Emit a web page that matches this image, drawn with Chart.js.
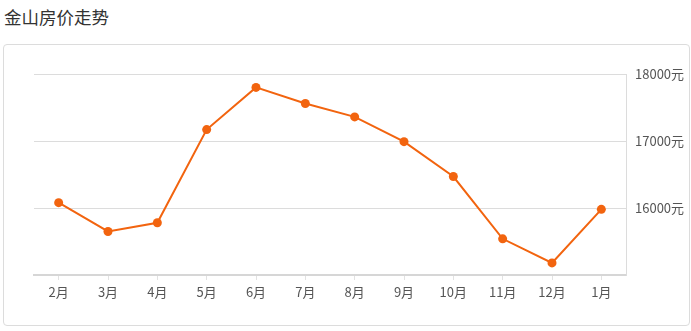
<!DOCTYPE html>
<html>
<head>
<meta charset="utf-8">
<script src="https://cdn.jsdelivr.net/npm/chart.js@4/dist/chart.umd.min.js"></script>
<style>
    html, body { margin: 0; padding: 0; background: #fff; }
    body { width: 691px; height: 331px; position: relative; overflow: hidden;
           font-family: "Noto Sans CJK SC", "Noto Sans", sans-serif; }
    .title { position: absolute; left: 4px; top: 5px; font-size: 17.5px; color: #333; line-height: 24px; }
    .card { position: absolute; left: 3px; top: 44px; width: 685px; height: 280px;
            border: 1px solid #dcdcdc; border-radius: 4px; }
    .card canvas { position: absolute; left: 0; top: 0; }
</style>
</head>
<body>
<div class="title">金山房价走势</div>
<div class="card">
    <canvas id="priceChart" width="685" height="280"></canvas>
</div>
<script>
// Monthly average price (元/㎡)
const months = ['2月', '3月', '4月', '5月', '6月', '7月', '8月', '9月', '10月', '11月', '12月', '1月'];
const prices = [16080, 15650, 15780, 17170, 17800, 17560, 17360, 16990, 16470, 15540, 15180, 15980];
const yMin = 15000;
const yMax = 18000;
const yStep = 1000;

document.addEventListener('DOMContentLoaded', function () {
    const ctx = document.getElementById('priceChart').getContext('2d');
    const lineColor = '#f2640f';

    new Chart(ctx, {
        type: 'line',
        data: {
            labels: months,
            datasets: [{
                data: prices,
                borderColor: lineColor,
                backgroundColor: lineColor,
                borderWidth: 2,
                tension: 0,
                fill: false,
                pointRadius: 4.5,
                pointBackgroundColor: lineColor,
                pointBorderColor: lineColor,
                pointBorderWidth: 0
            }]
        },
        options: {
            responsive: false,
            animation: false,
            layout: { padding: { left: 30, right: 2, top: 29, bottom: 18 } },
            plugins: {
                legend: { display: false },
                tooltip: { enabled: false }
            },
            scales: {
                x: {
                    offset: true,
                    grid: { drawOnChartArea: false, drawTicks: true, tickLength: 5, color: '#e2e2e2' },
                    border: { color: '#d6d6d6', width: 2 },
                    ticks: { color: '#555', font: { size: 13, family: '"Noto Sans CJK SC"' }, padding: 4 },
                    afterFit: (scale) => { scale.height = 32; }
                },
                y: {
                    position: 'right',
                    min: yMin,
                    max: yMax,
                    grid: { color: '#dcdcdc', drawTicks: false },
                    border: { color: '#dcdcdc', width: 1 },
                    ticks: {
                        stepSize: yStep,
                        padding: 9,
                        color: '#555',
                        font: { size: 13, family: '"Noto Sans CJK SC"' },
                        callback: (v) => v === yMin ? '' : v + '元'
                    },
                    afterFit: (scale) => { scale.width = 61; }
                }
            }
        }
    });
});
</script>
</body>
</html>
